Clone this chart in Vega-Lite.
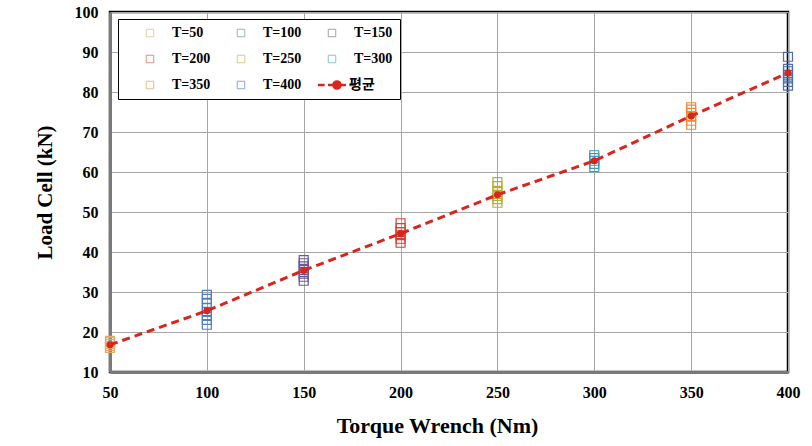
{
  "$schema": "https://vega.github.io/schema/vega-lite/v6.json",
  "width": 678,
  "height": 360,
  "autosize": {"type": "none"},
  "padding": {"left": 110, "top": 12, "right": 24, "bottom": 74},
  "background": "white",
  "config": {
    "view": {"stroke": "#000000", "strokeWidth": 2.5},
    "axis": {
      "labelFont": "Liberation Serif",
      "labelFontWeight": "bold",
      "labelFontSize": 16,
      "labelColor": "#000000",
      "labelFlush": false,
      "titleFont": "Liberation Serif",
      "titleFontWeight": "bold",
      "titleFontSize": 21,
      "titleColor": "#000000",
      "domainColor": "#7a7a7a",
      "domainWidth": 3,
      "gridColor": "#a6a6a6",
      "gridWidth": 1,
      "gridOpacity": 1,
      "ticks": false
    }
  },
  "data": {
    "values": [
      {"torque": 50, "load": 16.0, "series": "T=50"},
      {"torque": 50, "load": 16.5, "series": "T=50"},
      {"torque": 50, "load": 17.0, "series": "T=50"},
      {"torque": 50, "load": 17.5, "series": "T=50"},
      {"torque": 50, "load": 17.8, "series": "T=50"},
      {"torque": 100, "load": 21.8, "series": "T=100"},
      {"torque": 100, "load": 23.0, "series": "T=100"},
      {"torque": 100, "load": 24.2, "series": "T=100"},
      {"torque": 100, "load": 25.0, "series": "T=100"},
      {"torque": 100, "load": 26.0, "series": "T=100"},
      {"torque": 100, "load": 27.3, "series": "T=100"},
      {"torque": 100, "load": 28.3, "series": "T=100"},
      {"torque": 100, "load": 29.3, "series": "T=100"},
      {"torque": 150, "load": 32.8, "series": "T=150"},
      {"torque": 150, "load": 33.8, "series": "T=150"},
      {"torque": 150, "load": 34.6, "series": "T=150"},
      {"torque": 150, "load": 35.5, "series": "T=150"},
      {"torque": 150, "load": 36.4, "series": "T=150"},
      {"torque": 150, "load": 37.2, "series": "T=150"},
      {"torque": 150, "load": 38.0, "series": "T=150"},
      {"torque": 200, "load": 42.3, "series": "T=200"},
      {"torque": 200, "load": 43.3, "series": "T=200"},
      {"torque": 200, "load": 44.2, "series": "T=200"},
      {"torque": 200, "load": 45.0, "series": "T=200"},
      {"torque": 200, "load": 46.0, "series": "T=200"},
      {"torque": 200, "load": 47.2, "series": "T=200"},
      {"torque": 250, "load": 52.3, "series": "T=250"},
      {"torque": 250, "load": 53.2, "series": "T=250"},
      {"torque": 250, "load": 54.0, "series": "T=250"},
      {"torque": 250, "load": 55.0, "series": "T=250"},
      {"torque": 250, "load": 56.5, "series": "T=250"},
      {"torque": 250, "load": 57.5, "series": "T=250"},
      {"torque": 300, "load": 61.2, "series": "T=300"},
      {"torque": 300, "load": 62.0, "series": "T=300"},
      {"torque": 300, "load": 62.8, "series": "T=300"},
      {"torque": 300, "load": 63.5, "series": "T=300"},
      {"torque": 300, "load": 64.2, "series": "T=300"},
      {"torque": 350, "load": 71.8, "series": "T=350"},
      {"torque": 350, "load": 72.8, "series": "T=350"},
      {"torque": 350, "load": 73.8, "series": "T=350"},
      {"torque": 350, "load": 74.8, "series": "T=350"},
      {"torque": 350, "load": 75.6, "series": "T=350"},
      {"torque": 350, "load": 76.2, "series": "T=350"},
      {"torque": 400, "load": 81.6, "series": "T=400"},
      {"torque": 400, "load": 82.5, "series": "T=400"},
      {"torque": 400, "load": 83.4, "series": "T=400"},
      {"torque": 400, "load": 84.3, "series": "T=400"},
      {"torque": 400, "load": 85.2, "series": "T=400"},
      {"torque": 400, "load": 85.8, "series": "T=400"},
      {"torque": 400, "load": 88.8, "series": "T=400"},
      {"torque": 50, "load": 16.8, "series": "평균"},
      {"torque": 100, "load": 25.3, "series": "평균"},
      {"torque": 150, "load": 35.4, "series": "평균"},
      {"torque": 200, "load": 44.6, "series": "평균"},
      {"torque": 250, "load": 54.3, "series": "평균"},
      {"torque": 300, "load": 62.8, "series": "평균"},
      {"torque": 350, "load": 74.0, "series": "평균"},
      {"torque": 400, "load": 84.8, "series": "평균"}
    ]
  },
  "encoding": {
    "x": {
      "field": "torque",
      "type": "quantitative",
      "scale": {"domain": [50, 400], "nice": false, "zero": false},
      "axis": {"values": [50, 100, 150, 200, 250, 300, 350, 400], "title": "Torque Wrench (Nm)", "labelPadding": 12, "titlePadding": 15, "titleX": 327, "titleAnchor": "middle", "titleFontSize": 22}
    },
    "y": {
      "field": "load",
      "type": "quantitative",
      "scale": {"domain": [10, 100], "nice": false, "zero": false},
      "axis": {"values": [10, 20, 30, 40, 50, 60, 70, 80, 90, 100], "title": "Load Cell (kN)", "labelPadding": 12, "titlePadding": 19}
    }
  },
  "resolve": {"scale": {"color": "independent"}, "legend": {"color": "independent"}},
  "layer": [
    {
      "transform": [{"filter": "datum.series !== '평균'"}],
      "mark": {"type": "point", "shape": "square", "filled": false, "size": 80, "strokeWidth": 1.2, "opacity": 1},
      "encoding": {
        "color": {
          "field": "series",
          "type": "nominal",
          "scale": {
            "domain": ["T=50", "T=100", "T=150", "T=200", "T=250", "T=300", "T=350", "T=400"],
            "range": ["#e3a86b", "#4f7fbf", "#6a5a9a", "#d0443a", "#b8ad38", "#3f9cb8", "#ee8a3a", "#4a6fb0"]
          },
          "legend": {
            "title": null,
            "orient": "none",
            "legendX": 8,
            "legendY": 7,
            "columns": 3,
            "direction": "horizontal",
            "padding": 7,
            "strokeColor": "#000000",
            "fillColor": "#ffffff",
            "labelFont": "Liberation Serif",
            "labelFontWeight": "bold",
            "labelFontSize": 14,
            "labelColor": "#000000",
            "labelOffset": 15,
            "symbolOffset": 18,
            "symbolSize": 56,
            "symbolStrokeWidth": 1,
            "symbolOpacity": 0.6,
            "columnPadding": 5,
            "rowPadding": 12
          }
        }
      }
    },
    {
      "transform": [{"filter": "datum.series === '평균'"}],
      "mark": {"type": "line", "strokeDash": [8, 5], "strokeWidth": 3, "point": {"filled": true, "size": 50}},
      "encoding": {
        "color": {
          "field": "series",
          "type": "nominal",
          "scale": {"domain": ["평균"], "range": ["#d9261c"]},
          "legend": {
            "title": null,
            "orient": "none",
            "legendX": 220,
            "legendY": 66,
            "padding": 0,
            "symbolOffset": 0,
            "labelFont": "Noto Sans CJK KR",
            "labelFontWeight": "bold",
            "labelFontSize": 14,
            "labelColor": "#000000",
            "labelOffset": 5,
            "symbolSize": 56,
            "encode": {
              "symbols": {
                "update": {
                  "shape": {"signal": "'M-5.1,0H-3.3M-2.4,0H-1.1M1.1,0H2.4M3.3,0H5.1M-0.95,0A0.95,0.95 0 1,0 0.95,0A0.95,0.95 0 1,0 -0.95,0'"},
                  "fill": {"signal": "'#d9261c'"},
                  "fillOpacity": {"signal": "1"},
                  "strokeWidth": {"signal": "2.5"},
                  "strokeDash": {"signal": "[100, 0]"}
                }
              }
            }
          }
        }
      }
    }
  ]
}
